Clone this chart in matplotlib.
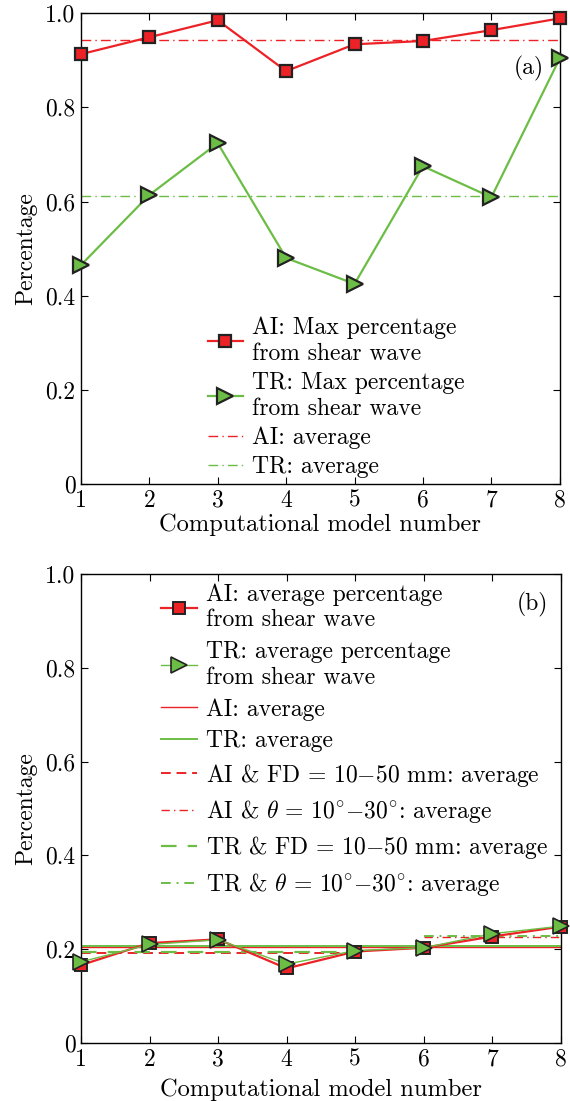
import numpy as np
import matplotlib
matplotlib.use('Agg')
import matplotlib.pyplot as plt

plt.rcParams['font.family'] = 'serif'
plt.rcParams['font.serif'] = ['cmr10', 'DejaVu Serif']
plt.rcParams['mathtext.fontset'] = 'cm'
plt.rcParams['axes.formatter.use_mathtext'] = True
plt.rcParams['font.size'] = 17

RED = '#ec2227'
GREEN = '#6cbd45'

# 计算模型编号
models = np.arange(1, 9)

# (a) 最大剪切波比例
ai_max = [0.913, 0.949, 0.985, 0.877, 0.934, 0.941, 0.964, 0.989]
tr_max = [0.465, 0.614, 0.724, 0.480, 0.425, 0.675, 0.609, 0.904]

# (b) 平均剪切波比例
ai_avg = [0.166, 0.213, 0.221, 0.159, 0.195, 0.203, 0.227, 0.248]
tr_avg = [0.173, 0.210, 0.220, 0.168, 0.197, 0.203, 0.233, 0.249]

# 分组: 模型 1-5 (FD = 10-50 mm), 模型 6-8 (theta = 10-30 deg)
fd_models = models[:5]
theta_models = models[5:]

ticks_y = [0, 0.2, 0.4, 0.6, 0.8, 1.0]
tick_labels_y = ['0', '0.2', '0.4', '0.6', '0.8', '1.0']


def style_axes(ax, xpad=1):
    ax.set_xlim(1, 8)
    ax.set_ylim(0, 1.0)
    ax.set_xticks(models)
    ax.set_xticklabels([str(m) for m in models])
    ax.set_yticks(ticks_y)
    ax.set_yticklabels(tick_labels_y)
    ax.tick_params(direction='in', top=True, right=True, length=5, width=0.8,
                   labelsize=17, pad=4)
    for s in ax.spines.values():
        s.set_linewidth(1.0)
    ax.set_xlabel('Computational model number', fontsize=17.6, labelpad=xpad)
    ax.set_ylabel('Percentage', fontsize=17, labelpad=6)


fig = plt.figure(figsize=(5.70, 11.01), dpi=100)
ax1 = fig.add_axes([0.142, 0.5604, 0.840, 0.4276])
ax2 = fig.add_axes([0.142, 0.0527, 0.842, 0.4260])

# ---- (a) ----
ax1.plot(models, ai_max, '-', color=RED, lw=1.6, marker='s', ms=8.5, clip_on=False,
         mfc=RED, mec='#222222', mew=1.6, label='AI: Max percentage\nfrom shear wave', zorder=4)
ax1.plot(models, tr_max, '-', color=GREEN, lw=1.6, marker='>', ms=11, clip_on=False,
         mfc=GREEN, mec='#222222', mew=1.6, label='TR: Max percentage\nfrom shear wave', zorder=4)
ax1.axhline(np.mean(ai_max), color=RED, lw=1.0, ls=(0, (7, 3, 1, 3)), label='AI: average')
ax1.axhline(np.mean(tr_max), color=GREEN, lw=1.0, ls=(0, (7, 3, 1, 3)), label='TR: average')
style_axes(ax1)
ax1.text(7.77, 0.883, '(a)', ha='right', va='center', fontsize=17)
ax1.legend(loc='lower left', bbox_to_anchor=(0.235, -0.018), frameon=False,
           handlelength=1.5, handletextpad=0.4, labelspacing=0.3, fontsize=17,
           borderaxespad=0.2)

# ---- (b) ----
ax2.plot(models, ai_avg, '-', color=RED, lw=1.6, marker='s', ms=8.5, clip_on=False,
         mfc=RED, mec='#222222', mew=1.4, label='AI: average percentage\nfrom shear wave', zorder=4)
ax2.plot(models, tr_avg, '-', color=GREEN, lw=1.0, marker='>', ms=11, clip_on=False,
         mfc=GREEN, mec='#222222', mew=1.2, label='TR: average percentage\nfrom shear wave', zorder=5)
ax2.axhline(np.mean(ai_avg), color=RED, lw=1.0, label='AI: average')
ax2.axhline(np.mean(tr_avg), color=GREEN, lw=1.4, label='TR: average')
ax2.plot(fd_models, [np.mean(ai_avg[:5])] * len(fd_models), color=RED, lw=1.4,
         ls=(0, (5, 3)), label=r'AI & FD$\,=\,$10$-$50 mm: average')
ax2.plot(theta_models, [np.mean(ai_avg[5:])] * len(theta_models), color=RED, lw=1.0,
         ls=(0, (6, 3, 1, 3)), label=r'AI & $\theta\,=\,$10$^{\circ}$$-$30$^{\circ}$: average')
ax2.plot(fd_models, [np.mean(tr_avg[:5])] * len(fd_models), color=GREEN, lw=1.6,
         ls=(0, (7, 5)), label=r'TR & FD$\,=\,$10$-$50 mm: average')
ax2.plot(theta_models, [np.mean(tr_avg[5:])] * len(theta_models), color=GREEN, lw=1.4,
         ls=(0, (5, 3, 1, 3)), label=r'TR & $\theta\,=\,$10$^{\circ}$$-$30$^{\circ}$: average')
style_axes(ax2, xpad=5.5)
ax2.text(7.81, 0.936, '(b)', ha='right', va='center', fontsize=17)
ax2.legend(loc='upper left', bbox_to_anchor=(0.1475, 1.0), frameon=False,
           handlelength=1.5, handletextpad=0.4, labelspacing=0.4, fontsize=17,
           borderaxespad=0.0)

fig.savefig('out.png', dpi=100)
